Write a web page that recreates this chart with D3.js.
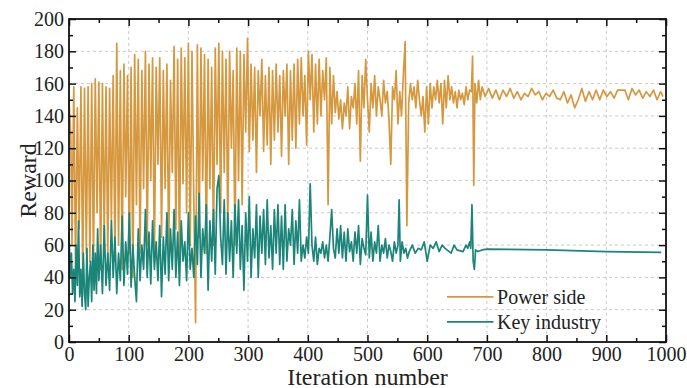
<!DOCTYPE html>
<html>
<head>
<meta charset="utf-8">
<script src="https://cdn.jsdelivr.net/npm/d3@7"></script>
<style>
  body { margin: 0; background: #fff; }
  text { font-family: "Times New Roman", "Liberation Serif", "DejaVu Serif", serif; }
</style>
</head>
<body>
<div id="chart"></div>
<script>
// Power side reward
const powerIter = [0,3,5,8,11,14,17,20,23,26,29,32,35,38,41,44,47,50,53,56,59,62,65,68,71,74,77,80,83,86,89,92,95,98,
  101,104,107,110,113,116,119,122,125,128,131,134,137,140,143,146,149,152,155,158,161,164,167,170,173,176,179,182,185,188,191,194,197,
  200,203,206,209,212,215,218,221,224,227,230,233,236,239,242,245,248,251,254,257,260,263,266,269,272,275,278,281,284,287,290,293,296,299,
  302,305,308,311,314,317,320,323,326,329,332,335,338,341,344,347,350,353,356,359,362,365,368,371,374,377,380,383,386,389,392,395,398,
  401,404,407,410,413,416,419,422,425,428,431,434,437,440,443,446,449,452,455,458,461,464,467,470,473,476,479,482,485,488,491,494,497,
  500,503,506,509,512,515,518,521,524,527,530,533,536,539,542,545,548,551,554,557,560,563,566,569,572,575,578,581,584,587,590,593,596,599,
  602,605,608,611,614,617,620,623,626,629,632,635,638,641,644,647,650,653,656,659,662,665,668,671,674,676,678,680,683,686,689,692,697,
  703,709,715,721,727,733,739,745,751,757,763,769,775,781,787,793,799,805,811,817,823,829,835,841,847,853,859,865,871,877,883,889,895,
  901,907,913,919,925,931,937,943,949,955,961,967,973,979,985,991,995];
const powerReward = [150,128,60,158,45,145,70,158,40,157,55,158,50,160,48,163,80,161,45,160,65,158,52,157,75,165,50,185,60,168,45,172,90,165,
  55,170,40,178,85,175,55,168,95,180,60,172,100,176,50,170,110,176,65,168,95,172,55,162,105,183,70,175,52,182,98,176,80,
  185,60,180,90,12,184,65,182,100,178,55,175,95,170,60,182,110,185,80,180,105,175,70,180,120,168,60,182,100,180,85,178,130,188,
  118,172,125,170,105,168,140,175,118,165,122,170,110,168,125,172,130,165,115,168,140,172,110,168,125,172,120,175,135,176,140,165,122,
  180,150,178,130,172,135,175,140,168,150,176,85,170,135,165,142,155,138,150,132,148,140,158,132,152,145,160,135,168,112,165,145,175,
  150,130,160,145,165,140,158,150,140,162,148,155,138,110,158,150,168,135,155,140,165,186,72,148,160,150,158,145,162,150,140,152,130,158,
  135,160,145,158,150,162,148,160,135,162,145,165,150,158,148,155,145,156,150,154,147,158,150,156,155,177,97,160,148,162,150,158,152,
  157,151,156,150,156,152,157,151,155,150,154,152,157,153,155,150,154,152,156,151,150,155,148,153,145,150,157,149,155,150,156,150,156,
  152,155,151,156,156,156,150,157,153,156,151,155,152,156,150,155,152];

// Key industry reward
const keyIter = [0,2,4,6,8,10,12,14,16,18,20,22,24,26,28,30,32,34,36,38,40,42,44,46,48,50,53,56,59,62,65,68,71,74,77,80,83,86,89,92,95,98,
  101,104,107,110,113,116,119,122,125,128,131,134,137,140,143,146,149,152,155,158,161,164,167,170,173,176,179,182,185,188,191,194,197,
  200,203,206,209,212,215,218,221,224,227,230,233,236,239,242,245,248,251,254,257,260,263,266,269,272,275,278,281,284,287,290,293,296,299,
  302,305,308,311,314,317,320,323,326,329,332,335,338,341,344,347,350,353,356,359,362,365,368,371,374,377,380,383,386,389,392,395,398,
  401,404,407,410,413,416,419,422,425,428,431,434,437,440,443,446,449,452,455,458,461,464,467,470,473,476,479,482,485,488,491,494,497,
  500,503,506,509,512,515,518,521,524,527,530,533,536,539,542,545,548,551,553,555,558,561,564,567,570,575,580,585,590,595,
  600,605,610,615,620,625,630,640,645,650,660,665,668,671,673,675,677,679,681,685,692,700,800,900,992];
const keyReward = [68,40,55,30,45,25,60,35,75,28,45,22,55,30,20,58,22,40,50,25,60,32,55,30,70,38,60,30,72,35,55,32,75,40,65,30,55,38,78,35,62,42,
  80,34,60,40,25,70,38,60,45,82,40,68,36,75,45,62,38,72,28,65,42,80,38,70,45,82,40,68,35,75,50,62,38,
  80,45,58,40,78,48,92,40,70,55,85,32,75,50,82,42,95,103,65,48,88,42,80,50,75,40,85,55,88,45,72,32,80,50,
  90,40,70,52,85,40,78,55,82,48,88,52,72,45,82,55,85,48,78,45,85,50,70,60,82,48,75,55,88,50,60,52,65,
  55,98,60,50,65,48,58,55,62,52,60,50,65,82,58,52,70,55,72,52,68,50,70,56,62,50,68,55,72,48,64,58,54,
  91,52,68,50,62,55,72,50,60,55,64,52,60,56,50,62,55,60,88,50,62,55,58,52,56,60,55,58,57,62,
  50,60,58,62,56,60,58,55,60,57,56,60,58,62,58,85,50,45,57,56,57,57.5,57,56,55.5];

const xTicks = [0,100,200,300,400,500,600,700,800,900,1000];
const yTicks = [0,20,40,60,80,100,120,140,160,180,200];
const seriesNames = ["Power side", "Key industry"];
const seriesColors = ["#d6983e", "#1b8579"];

const width = 687, height = 388;
const margin = {top: 19, right: 21, bottom: 46, left: 69};
const innerWidth = width - margin.left - margin.right;
const innerHeight = height - margin.top - margin.bottom;

const svg = d3.select("#chart").append("svg")
  .attr("width", width)
  .attr("height", height);

const innerChart = svg.append("g")
  .attr("transform", `translate(${margin.left}, ${margin.top})`);

const xScale = d3.scaleLinear().domain([0, 1000]).range([0, innerWidth]);
const yScale = d3.scaleLinear().domain([0, 200]).range([innerHeight, 0]);

// dashed grid
innerChart.append("g").selectAll("line")
  .data(xTicks.slice(1, -1))
  .join("line")
  .attr("x1", d => xScale(d)).attr("x2", d => xScale(d))
  .attr("y1", 0).attr("y2", innerHeight)
  .attr("stroke", "#bdbdbd").attr("stroke-width", 0.8).attr("stroke-dasharray", "3,3");
innerChart.append("g").selectAll("line")
  .data(yTicks.slice(1, -1))
  .join("line")
  .attr("y1", d => yScale(d)).attr("y2", d => yScale(d))
  .attr("x1", 0).attr("x2", innerWidth)
  .attr("stroke", "#bdbdbd").attr("stroke-width", 0.8).attr("stroke-dasharray", "3,3");

// lines
const lineGen = d3.line().x(d => xScale(d[0])).y(d => yScale(d[1]));
const powerData = powerIter.map((x, i) => [x, powerReward[i]]);
const keyData = keyIter.map((x, i) => [x, keyReward[i]]);

innerChart.append("path")
  .datum(powerData)
  .attr("d", lineGen)
  .attr("fill", "none")
  .attr("stroke", seriesColors[0])
  .attr("stroke-width", 1.7)
  .attr("stroke-linejoin", "round");

innerChart.append("path")
  .datum(keyData)
  .attr("d", lineGen)
  .attr("fill", "none")
  .attr("stroke", seriesColors[1])
  .attr("stroke-width", 1.7)
  .attr("stroke-linejoin", "round");

// axes with inward ticks on all four sides
const xMinor = d3.range(50, 1000, 100);
const yMinor = d3.range(10, 200, 20);

function styleAxis(g) {
  g.attr("font-family", null).attr("font-size", null);
  g.select(".domain").remove();
  g.selectAll(".tick line").attr("stroke", "#111").attr("stroke-width", 1.5);
  g.selectAll(".tick text").attr("fill", "#222").style("font-size", "20px");
}
// tick marks only, no labels
function bareAxis(g) {
  styleAxis(g);
  g.selectAll(".tick text").remove();
}

innerChart.append("g")
  .attr("transform", `translate(0, ${innerHeight})`)
  .call(d3.axisBottom(xScale).tickValues(xTicks).tickSize(-7).tickPadding(5).tickFormat(d3.format("d")))
  .call(styleAxis);
innerChart.append("g")
  .attr("transform", `translate(0, ${innerHeight})`)
  .call(d3.axisBottom(xScale).tickValues(xMinor).tickSize(-4))
  .call(bareAxis);
innerChart.append("g")
  .call(d3.axisTop(xScale).tickValues(xTicks).tickSize(-7))
  .call(bareAxis);
innerChart.append("g")
  .call(d3.axisTop(xScale).tickValues(xMinor).tickSize(-4))
  .call(bareAxis);

innerChart.append("g")
  .call(d3.axisLeft(yScale).tickValues(yTicks).tickSize(-7).tickPadding(5).tickFormat(d3.format("d")))
  .call(styleAxis);
innerChart.append("g")
  .call(d3.axisLeft(yScale).tickValues(yMinor).tickSize(-4))
  .call(bareAxis);
innerChart.append("g")
  .attr("transform", `translate(${innerWidth}, 0)`)
  .call(d3.axisRight(yScale).tickValues(yTicks).tickSize(-7))
  .call(bareAxis);
innerChart.append("g")
  .attr("transform", `translate(${innerWidth}, 0)`)
  .call(d3.axisRight(yScale).tickValues(yMinor).tickSize(-4))
  .call(bareAxis);

// frame
innerChart.append("rect")
  .attr("width", innerWidth).attr("height", innerHeight)
  .attr("fill", "none").attr("stroke", "#111").attr("stroke-width", 1.8);

// axis titles
svg.append("text")
  .attr("x", margin.left + innerWidth / 2)
  .attr("y", height - 3)
  .attr("text-anchor", "middle")
  .attr("fill", "#222")
  .style("font-size", "24px")
  .text("Iteration number");

svg.append("text")
  .attr("transform", `translate(36, ${margin.top + innerHeight / 2}) rotate(-90)`)
  .attr("text-anchor", "middle")
  .attr("fill", "#222")
  .style("font-size", "24px")
  .text("Reward");

// legend
const legend = innerChart.append("g");
seriesNames.forEach((name, i) => {
  const ly = yScale(28) + i * 25;
  legend.append("line")
    .attr("x1", xScale(633)).attr("x2", xScale(711))
    .attr("y1", ly).attr("y2", ly)
    .attr("stroke", seriesColors[i]).attr("stroke-width", 1.8);
  legend.append("text")
    .attr("x", xScale(717)).attr("y", ly + 7)
    .attr("fill", "#222")
    .style("font-size", "20px")
    .text(name);
});
</script>
</body>
</html>
